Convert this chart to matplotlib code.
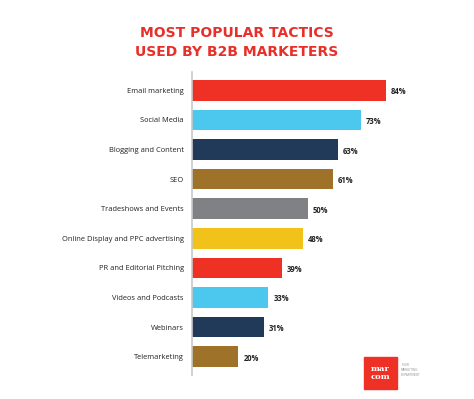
import matplotlib
matplotlib.use("Agg")
from matplotlib import pyplot as plt
from matplotlib.patches import Rectangle

tactics = ["Email marketing", "Social Media", "Blogging and Content", "SEO",
           "Tradeshows and Events", "Online Display and PPC advertising",
           "PR and Editorial Pitching", "Videos and Podcasts", "Webinars",
           "Telemarketing"]
shares = [84, 73, 63, 61, 50, 48, 39, 33, 31, 20]
colors = ["#ee3124", "#4cc7ee", "#213a59", "#9e7229", "#808184",
          "#f1c31a", "#ee3124", "#4cc7ee", "#213a59", "#9e7229"]

fig = plt.figure(figsize=(4.74, 3.99), dpi=100)
fig.patch.set_facecolor("white")

# title
fig.text(0.5, 1 - 33/399, "MOST POPULAR TACTICS", ha="center", va="center",
         fontsize=10, fontweight="bold", color="#e8302a", family="DejaVu Sans")
fig.text(0.5, 1 - 52/399, "USED BY B2B MARKETERS", ha="center", va="center",
         fontsize=10, fontweight="bold", color="#e8302a", family="DejaVu Sans")

ax = fig.add_axes([192/474, 1 - 375/399, (474 - 192)/474, 303/399])
y = list(range(len(tactics)))
ax.barh(y, shares, height=0.69, color=colors)
ax.set_xlim(0, 282/2.31)
ax.set_ylim(9.62, -0.62)

for yi, v in zip(y, shares):
    ax.text(v + 2.2, yi + 0.05, f"{v}%", va="center", ha="left",
            fontsize=5.5, fontweight="bold", color="#222222", family="Open Sans")

ax.set_yticks(y)
ax.set_yticklabels(tactics, fontsize=5.4, color="#222222", family="Open Sans")
ax.tick_params(axis="y", length=0, pad=6)
ax.set_xticks([])
for s in ["top", "right", "bottom"]:
    ax.spines[s].set_visible(False)
ax.spines["left"].set_color("#c8c8c8")
ax.spines["left"].set_linewidth(1.2)
ax.set_facecolor("none")

# logo
fig.patches.append(Rectangle((364/474, 1 - 389/399), 33/474, 32/399,
                             transform=fig.transFigure, color="#ee3124"))
fig.text(380.5/474, 1 - 373/399, "mar\ncom", ha="center", va="center",
         fontsize=6, fontweight="bold", color="white", family="DejaVu Serif",
         linespacing=0.85)
fig.text(401/474, 1 - 370/399, "YOUR\nMARKETING\nDEPARTMENT", ha="left", va="center",
         fontsize=2.2, color="#999999", linespacing=1.2)

fig.savefig("out.png", dpi=100)
